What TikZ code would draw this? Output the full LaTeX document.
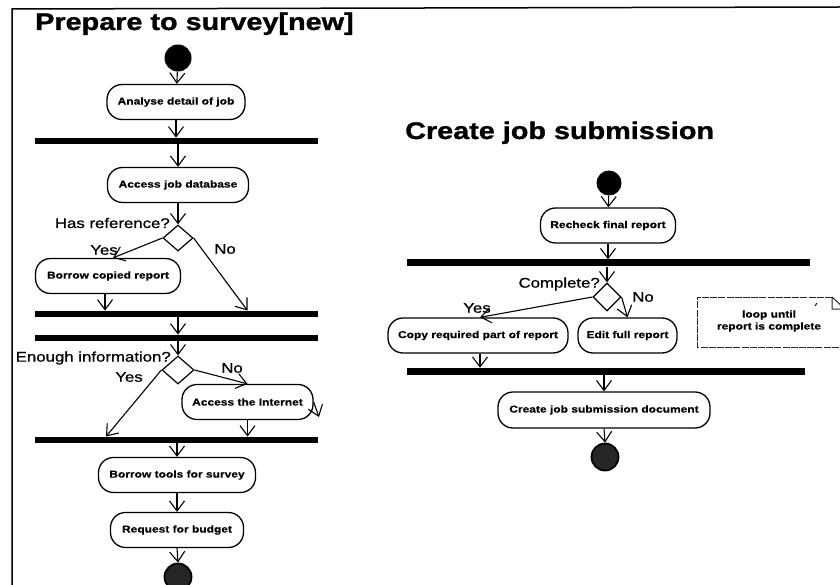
\documentclass[tikz,border=0pt]{standalone}
\usepackage{fontspec}
\setmainfont{Liberation Sans}[FakeStretch=1.2]
\newfontfamily\guardfont{Liberation Sans}[FakeStretch=1.2, FakeBold=0.8]
\newfontfamily\headfont{Liberation Sans Bold}[FakeStretch=1.2, FakeBold=1.2]
\newfontfamily\actfont{Liberation Sans Bold}[FakeStretch=1.2, FakeBold=0.5]
\usetikzlibrary{shapes.geometric,arrows.meta,calc}
\begin{document}
\begin{tikzpicture}[x=1pt,y=-1pt,
  >={Straight Barb[length=10pt,width=15pt]},
  act/.style={draw, line width=1.3pt, rounded corners=15pt, minimum height=35pt,
    inner sep=2pt, font=\actfont\fontsize{10}{12}\selectfont},
  forkbar/.style={fill=black, inner sep=0pt, minimum height=6.5pt},
  choice/.style={diamond, draw, line width=1.2pt, inner sep=0pt},
  guard/.style={font=\guardfont\fontsize{14}{16}\selectfont, inner sep=1pt},
  heading/.style={font=\headfont\fontsize{24}{28}\selectfont, inner sep=0pt},
  flow/.style={->, line width=1.1pt},
  startdot/.style={circle, fill=black, inner sep=0pt, minimum size=27pt},
  enddot/.style={circle, fill=black!85, draw=black, line width=1.8pt, inner sep=0pt, minimum size=27pt}]
\useasboundingbox (0,0) rectangle (840,585);
\clip (0,0) rectangle (840,585);

% frame
\draw[line width=1.5pt] (12,585) -- (12,9) -- (840,7);

% ---------------- Prepare to survey ----------------
\node[heading, anchor=base west] (t1) at (35,30) {Prepare to survey[new]};

\node[startdot] (s1) at (178,58) {};
\node[act, minimum width=138pt] (analyse) at (176,102) {Analyse detail of job};
\node[forkbar, minimum width=283pt] (b1) at (176.5,141) {};
\node[act, minimum width=141pt] (access) at (178,185) {Access job database};
\node[choice, minimum width=30pt, minimum height=26pt] (d1) at (178,238) {};
\node[guard, anchor=east] (q1) at (171,223) {Has reference?};
\node[act, minimum width=145pt] (copied) at (108,276) {Borrow copied report};
\node[forkbar, minimum width=283pt] (b2) at (176.5,314) {};
\node[forkbar, minimum width=283pt] (b3) at (176.5,338) {};
\node[choice, minimum width=32pt, minimum height=28pt] (d2) at (178,370) {};
\node[guard, anchor=east] (q2) at (172,358) {Enough information?};
\node[act, minimum width=131pt] (inet) at (247.5,402) {Access the Internet};
\node[forkbar, minimum width=283pt] (b4) at (176.5,440) {};
\node[act, minimum width=157pt] (tools) at (177,475) {Borrow tools for survey};
\node[act, minimum width=133pt] (budget) at (177,530) {Request for budget};
\node[enddot] (e1) at (178,577) {};
\coordinate (selfend) at (319,417);

\node[guard] (y1) at (104,250) {Yes};
\node[guard] (n1) at (225,249) {No};
\node[guard] (y2) at (129,377) {Yes};
\node[guard] (n2) at (232,368) {No};

\draw[flow] (s1) -- (analyse);
\draw[flow] (analyse.south) -- (analyse.south |- b1.north);
\draw[flow] (b1.south -| access.north) -- (access.north);
\draw[flow] (access.south) -- (d1.north);
\draw[flow] (d1.west) -- ($(copied.north)+(5,0)$);
\draw[flow] (d1.east) -- (b2.north -| inet.north);
\draw[flow] ($(copied.south)+(-3,0)$) -- ($(copied.south |- b2.north)+(-3,0)$);
\draw[flow] (b2.south -| d2.north) -- (b3.north -| d2.north);
\draw[flow] (b3.south -| d2.north) -- (d2.north);
\draw[flow] (d2.west) -- ($(b4.north -| copied.south)+(-2,0)$);
\draw[flow] (d2.east) -- (inet.north);
\draw[flow] (inet.east) -- (selfend);
\draw[flow] (inet.south) -- (inet.south |- b4.north);
\draw[flow] (b4.south -| tools.north) -- (tools.north);
\draw[flow] (tools.south) -- (budget.north);
\draw[flow] (budget.south) -- (e1.north);

% ---------------- Create job submission ----------------
\node[heading, anchor=base west] (t2) at (405,139) {Create job submission};

\node[startdot, minimum size=25pt] (s2) at (609,183) {};
\node[act, minimum width=135pt] (recheck) at (608,225.5) {Recheck final report};
\node[forkbar, minimum width=403pt, minimum height=7pt] (r1) at (608.5,263) {};
\node[choice, minimum width=28pt, minimum height=28pt] (d3) at (607,297) {};
\node[guard, anchor=east] (q3) at (601,284) {Complete?};
\node[act, minimum width=180pt] (copy) at (478,335.5) {Copy required part of report};
\node[act, minimum width=99pt] (edit) at (627.5,335.5) {Edit full report};
\node[forkbar, minimum width=398pt, minimum height=7pt] (r2) at (606,371.5) {};
\node[act, minimum width=212pt, minimum height=36pt] (create) at (604,410) {Create job submission document};
\node[enddot, minimum size=27pt] (e2) at (605,457) {};

\node[guard] (y3) at (477,308) {Yes};
\node[guard] (n3) at (643,297) {No};

\draw[flow] (s2) -- (recheck);
\draw[flow] (recheck.south) -- (recheck.south |- r1.north);
\draw[flow] (r1.south -| d3.north) -- (d3.north);
\draw[flow] (d3.west) -- ($(copy.north)+(2,0)$);
\draw[flow] (d3.east) -- (edit.north);
\draw[flow] ($(copy.south)+(2,0)$) -- ($(copy.south |- r2.north)+(2,0)$);
\draw[flow] (r2.south -| create.north) -- (create.north);
\draw[flow] (create.south) -- (e2.north);

% note with folded corner
\draw[line width=1pt, draw=black!85, dash pattern=on 7pt off 1.2pt]
  (832,297) -- (697,297) -- (697,347) -- (845,347);
\draw[line width=1pt, draw=black!85] (832,297) -- (832,309) -- (845,309)
  (832,297) -- (845,309);
\draw[line width=1pt, draw=black!85] (815,306) -- (817,303);
\node[font=\actfont\fontsize{10}{12}\selectfont, align=center] (note) at (769,321)
  {loop until\\report is complete};
\end{tikzpicture}
\end{document}
